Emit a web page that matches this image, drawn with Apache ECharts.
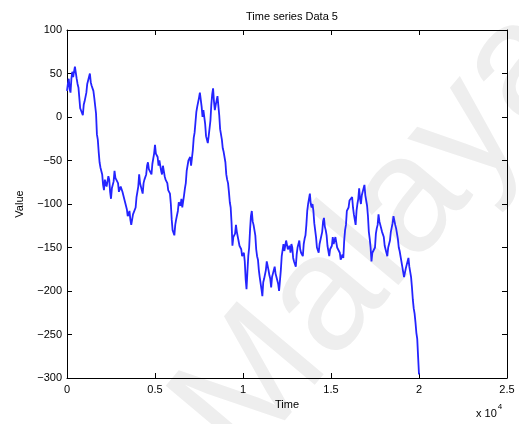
<!DOCTYPE html>
<html>
<head>
<meta charset="utf-8">
<script src="https://cdn.jsdelivr.net/npm/echarts@6/dist/echarts.min.js"></script>
<style>
html,body{margin:0;padding:0;background:#fff;}
#chart{width:519px;height:424px;}
</style>
</head>
<body>
<div id="chart"></div>
<script>
// Sample spacing of the series (time units)
const timeStep = 50;

// Recorded values, one every timeStep starting at t = 0
const values = [
  30, 38, 44, 32, 28, 44, 52, 46, 48, 58, 56, 44, 38, 34, 22, 10, 8, 9, 2, 14,
  18, 20, 28, 38, 42, 44, 50, 40, 36, 38, 30, 22, 22, 4, -20, -26, -40, -52, -58, -58,
  -66, -78, -84, -72, -70, -80, -78, -68, -72, -86, -94, -82, -80, -74, -62, -70, -72, -70, -76, -86,
  -88, -80, -78, -86, -84, -88, -98, -96, -106, -114, -112, -108, -118, -124, -122, -112, -110, -112, -104, -92,
  -86, -80, -66, -76, -80, -80, -88, -76, -72, -74, -66, -56, -52, -60, -60, -58, -66, -54, -48, -42,
  -32, -42, -44, -46, -56, -50, -52, -62, -66, -56, -58, -68, -72, -70, -76, -84, -84, -88, -100, -118,
  -130, -128, -136, -124, -118, -116, -108, -98, -100, -102, -94, -104, -104, -90, -82, -76, -62, -60, -50, -52,
  -46, -56, -58, -38, -24, -18, -6, 6, 12, 12, 22, 28, 28, 12, 0, 8, 8, -8, -22, -22,
  -30, -22, -20, -4, 14, 26, 33, 18, 8, 14, 16, 24, 22, 2, -14, -16, -26, -36, -40, -42,
  -52, -66, -72, -76, -86, -98, -104, -122, -148, -138, -136, -134, -124, -132, -130, -134, -148, -146, -152, -160,
  -158, -156, -166, -186, -198, -178, -160, -150, -130, -114, -108, -120, -124, -126, -136, -152, -160, -164, -176, -184,
  -184, -198, -206, -190, -186, -186, -176, -166, -164, -176, -182, -186, -196, -184, -180, -182, -172, -180, -184, -184,
  -192, -200, -198, -176, -160, -158, -146, -154, -152, -142, -142, -152, -150, -148, -156, -146, -150, -162, -166, -164,
  -172, -158, -150, -150, -142, -152, -156, -154, -160, -146, -140, -136, -124, -108, -100, -98, -88, -100, -104, -100,
  -108, -122, -130, -138, -150, -148, -156, -146, -148, -144, -132, -120, -116, -126, -130, -136, -148, -150, -160, -152,
  -150, -148, -138, -146, -146, -138, -140, -150, -148, -148, -156, -164, -164, -158, -162, -142, -130, -124, -108, -110,
  -104, -96, -96, -98, -92, -104, -112, -114, -124, -108, -100, -94, -82, -94, -100, -90, -90, -88, -78, -90,
  -96, -102, -114, -132, -140, -150, -166, -156, -156, -158, -150, -134, -128, -124, -112, -120, -120, -122, -132, -130,
  -138, -148, -152, -152, -160, -150, -146, -142, -132, -130, -122, -114, -112, -124, -128, -130, -140, -150, -154, -156,
  -166, -168, -178, -184, -184, -174, -170, -170, -162, -172, -178, -184, -196, -210, -220, -226, -236, -248, -255, -276,
  -296
];

// Axis tick labels
const xTicks = [0, 0.5, 1, 1.5, 2, 2.5];
const yTicks = [100, 50, 0, -50, -100, -150, -200, -250, -300];

const seriesData = values.map((v, i) => [i * timeStep, v]);

const chart = echarts.init(document.getElementById('chart'), null, {renderer: 'canvas'});
const font = 'Liberation Sans, Arial, sans-serif';
const axisLine = {show: true, onZero: false, lineStyle: {color: '#000', width: 1}};
const tickIn = {show: true, inside: true, length: 5, lineStyle: {color: '#000'}};

chart.setOption({
  animation: false,
  backgroundColor: '#fff',
  title: {
    text: 'Time series Data 5',
    left: 287, top: 6, textAlign: 'center',
    textStyle: {fontFamily: font, fontSize: 11, fontWeight: 'normal', color: '#000'}
  },
  grid: {left: 67, right: 12, top: 30, bottom: 46},
  graphic: [
    {
      type: 'text', z: 0, zlevel: 0, silent: true,
      x: 380, y: 236, rotation: 50 * Math.PI / 180,
      style: {text: 'Malaya', fontFamily: font, fontSize: 165, fill: '#eeeeee',
              textAlign: 'center', textVerticalAlign: 'middle'}
    },
    {
      type: 'text', x: 476, y: 403,
      style: {
        text: '{b|x 10}{s|4}', fontFamily: font,
        rich: {b: {fontSize: 11, fontFamily: font, color: '#000', verticalAlign: 'bottom'},
               s: {fontSize: 8, fontFamily: font, color: '#000', padding: [0, 0, 8, 1]}}
      }
    }
  ],
  xAxis: [
    {
      type: 'value', min: 0, max: 25000, interval: 5000,
      name: 'Time', nameLocation: 'middle', nameGap: 21,
      nameTextStyle: {fontFamily: font, fontSize: 11, color: '#000'},
      axisLine: axisLine, axisTick: tickIn, splitLine: {show: false},
      axisLabel: {fontFamily: font, fontSize: 11, color: '#000', margin: 6,
                  formatter: v => String(xTicks[Math.round(v / 5000)])}
    },
    {
      type: 'value', position: 'top', min: 0, max: 25000, interval: 5000,
      axisLine: axisLine, axisTick: tickIn, axisLabel: {show: false}, splitLine: {show: false}
    }
  ],
  yAxis: [
    {
      type: 'value', min: -300, max: 100, interval: 50,
      name: 'Value', nameLocation: 'middle', nameGap: 42, nameRotate: 90,
      nameTextStyle: {fontFamily: font, fontSize: 11, color: '#000'},
      axisLine: axisLine, axisTick: tickIn, splitLine: {show: false},
      axisLabel: {fontFamily: font, fontSize: 11, color: '#000', margin: 5,
                  formatter: v => {
                    const t = yTicks.find(k => k === v);
                    return t === undefined ? '' : String(t).replace('-', '\u2212');
                  }}
    },
    {
      type: 'value', position: 'right', min: -300, max: 100, interval: 50,
      axisLine: axisLine, axisTick: tickIn, axisLabel: {show: false}, splitLine: {show: false}
    }
  ],
  series: [{
    type: 'line', data: seriesData, showSymbol: false, symbol: 'none',
    lineStyle: {color: '#2424ff', width: 1.8}, z: 5
  }]
});
</script>
</body>
</html>
